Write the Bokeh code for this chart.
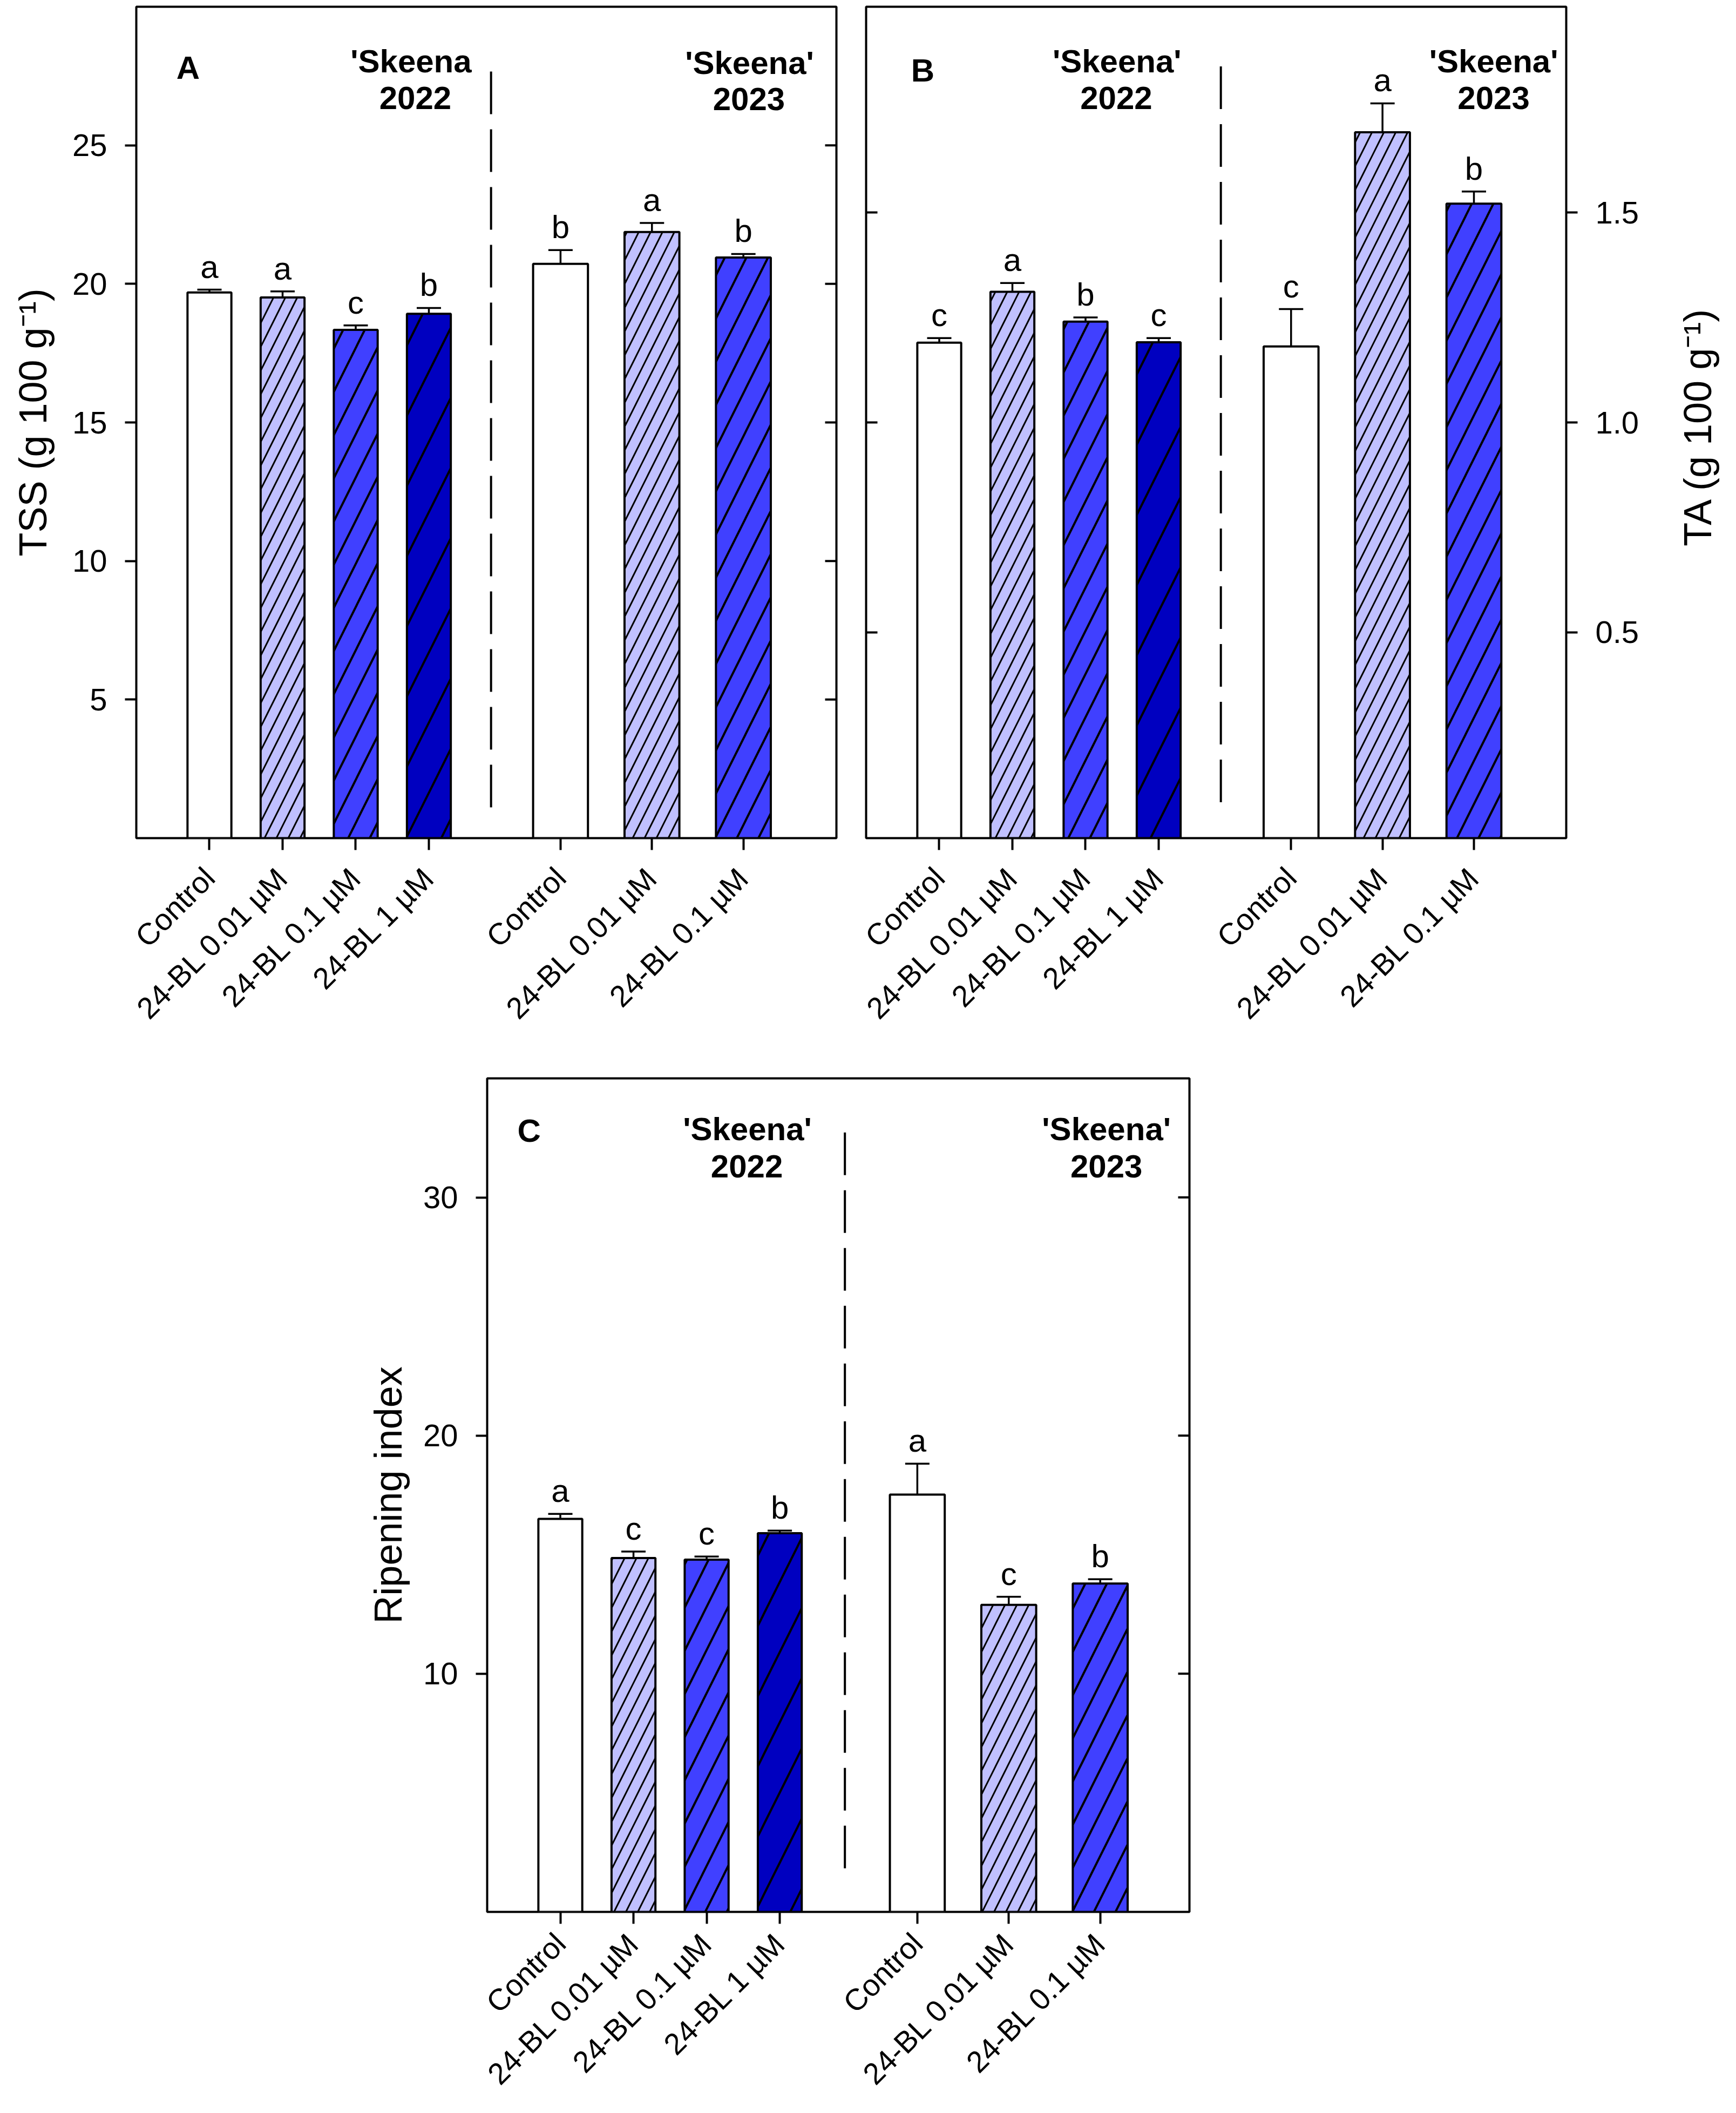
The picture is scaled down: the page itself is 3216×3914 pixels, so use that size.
import math
from bokeh.plotting import figure
from bokeh.models import (Range1d, FixedTicker, Whisker, TeeHead, PrintfTickFormatter,
                          ColumnDataSource, Spacer)
from bokeh.layouts import row, column
from bokeh.embed import file_html
from bokeh.resources import INLINE
from bokeh.core.properties import value

FONT = "Liberation Sans"

# ---------------- data ----------------
treatments_2022 = ["Control", "24-BL 0.01 µM", "24-BL 0.1 µM", "24-BL 1 µM"]
treatments_2023 = ["Control", "24-BL 0.01 µM", "24-BL 0.1 µM"]

# Panel A: TSS (g 100 g-1)
tss_2022 = [19.69, 19.51, 18.34, 18.92]
tss_2022_se = [0.10, 0.22, 0.16, 0.21]
tss_2022_letters = ["a", "a", "c", "b"]
tss_2023 = [20.72, 21.87, 20.95]
tss_2023_se = [0.50, 0.33, 0.13]
tss_2023_letters = ["b", "a", "b"]

# Panel B: TA (g 100 g-1)
ta_2022 = [1.190, 1.311, 1.240, 1.191]
ta_2022_se = [0.011, 0.021, 0.010, 0.010]
ta_2022_letters = ["c", "a", "b", "c"]
ta_2023 = [1.181, 1.691, 1.521]
ta_2023_se = [0.089, 0.069, 0.029]
ta_2023_letters = ["c", "a", "b"]

# Panel C: Ripening index
ri_2022 = [16.50, 14.86, 14.79, 15.90]
ri_2022_se = [0.21, 0.27, 0.13, 0.11]
ri_2022_letters = ["a", "c", "c", "b"]
ri_2023 = [17.52, 12.89, 13.79]
ri_2023_se = [1.30, 0.34, 0.18]
ri_2023_letters = ["a", "c", "b"]

tss_ticks = [5, 10, 15, 20, 25]
ta_ticks = [0.5, 1.0, 1.5]
ri_ticks = [10, 20, 30]

tss_title = "TSS (g 100 g⁻¹)"
ta_title = "TA (g 100 g⁻¹)"
ri_title = "Ripening index"

# ---------------- styles ----------------
fill_2022 = ["#FFFFFF", "#C0C0FF", "#4040FF", "#0000C0"]
fill_2023 = ["#FFFFFF", "#C0C0FF", "#4040FF"]
hatch_2022 = [" ", "/", "/", "/"]
hatch_2023 = [" ", "/", "/"]
hscale_2022 = [20, 44, 80, 130]
hscale_2023 = [20, 44, 80]
hweight_2022 = [1, 3, 4, 4]
hweight_2023 = [1, 3, 4]

pos_2022 = [1, 2, 3, 4]
W22, W23 = 0.6, 0.75
LW = 4


def make_panel(v22, e22, l22, v23, e23, l23, pos_2023, x_end, y_range, y_ticks,
               divider, texts, label_side, y_label, borders, frame,
               x_standoff, y_label_standoff, y_format=None):
    p = figure(x_range=Range1d(0, x_end), y_range=Range1d(*y_range),
               frame_width=frame[0], frame_height=frame[1],
               min_border_left=borders[0], min_border_right=borders[1],
               min_border_top=borders[2], min_border_bottom=borders[3],
               toolbar_location=None, tools="", output_backend="svg",
               y_axis_location=label_side)
    p.grid.visible = False
    p.outline_line_color = "black"
    p.outline_line_width = 4
    p.background_fill_color = "white"
    p.border_fill_color = "white"

    xs = pos_2022 + pos_2023
    src = ColumnDataSource(dict(
        x=xs,
        top=v22 + v23,
        err=[v + e for v, e in zip(v22 + v23, e22 + e23)],
        w=[W22] * len(v22) + [W23] * len(v23),
        fill=fill_2022[:len(v22)] + fill_2023[:len(v23)],
        hatch=hatch_2022[:len(v22)] + hatch_2023[:len(v23)],
        hscale=hscale_2022[:len(v22)] + hscale_2023[:len(v23)],
        hweight=hweight_2022[:len(v22)] + hweight_2023[:len(v23)],
        letter=l22 + l23,
    ))
    p.add_layout(Whisker(source=src, base="x", lower="top", upper="err",
                         dimension="height", line_width=3.5, line_color="black",
                         upper_head=TeeHead(size=45, line_width=3.5, line_color="black"),
                         lower_head=None))
    p.vbar(x="x", top="top", bottom=0, width="w", source=src,
           fill_color="fill", line_color="black", line_width=LW,
           hatch_pattern="hatch", hatch_scale="hscale", hatch_weight="hweight",
           hatch_color="black")
    p.text(x="x", y="err", text="letter", source=src, text_align="center",
           text_baseline="bottom", y_offset=-9, text_font=value(FONT),
           text_font_size="60px", text_color="black")

    # dashed divider between seasons
    p.line(x=[divider[0], divider[0]], y=[divider[1], divider[2]],
           line_dash="79 28", line_width=4, line_color="black")

    # panel letter and season titles
    p.text(x=texts["x"], y=texts["y"], text=texts["text"], text_align="center",
           text_baseline="alphabetic", text_font=value(FONT),
           text_font_style="bold", text_font_size="60px", text_color="black")

    # x axis
    xa = p.xaxis[0]
    xa.ticker = FixedTicker(ticks=xs)
    xa.major_label_overrides = {x: t for x, t in
                                zip(xs, treatments_2022[:len(v22)] + treatments_2023[:len(v23)])}
    xa.major_label_orientation = math.pi / 4
    xa.axis_line_color = None
    xa.minor_tick_line_color = None
    xa.major_tick_line_width = LW
    xa.major_tick_out = 22
    xa.major_tick_in = 0
    xa.major_label_text_font = FONT
    xa.major_label_text_font_size = "56px"
    xa.major_label_text_color = "black"
    xa.major_label_standoff = x_standoff

    # labelled y axis
    ya = p.yaxis[0]
    ya.ticker = FixedTicker(ticks=y_ticks)
    if y_format:
        ya.formatter = PrintfTickFormatter(format=y_format)
    ya.axis_line_color = None
    ya.minor_tick_line_color = None
    ya.major_tick_line_width = LW
    ya.major_tick_out = 21
    ya.major_tick_in = 0
    ya.major_label_text_font = FONT
    ya.major_label_text_font_size = "58px"
    ya.major_label_text_color = "black"
    ya.major_label_standoff = 33

    # mirrored inward ticks on the opposite side of the frame
    if label_side == "left":
        p.ray(x=[x_end] * len(y_ticks), y=y_ticks, length=21, length_units="screen",
              angle=math.pi, line_width=LW, line_color="black")
        ya.axis_label = y_label
        ya.axis_label_text_font = FONT
        ya.axis_label_text_font_size = "72px"
        ya.axis_label_text_font_style = "normal"
        ya.axis_label_text_color = "black"
        ya.axis_label_standoff = y_label_standoff
    else:
        p.ray(x=[0] * len(y_ticks), y=y_ticks, length=21, length_units="screen",
              angle=0, line_width=LW, line_color="black")
    return p


pA = make_panel(tss_2022, tss_2022_se, tss_2022_letters,
                tss_2023, tss_2023_se, tss_2023_letters,
                pos_2023=[5.80, 7.05, 8.30], x_end=9.572, y_range=(0, 30),
                y_ticks=tss_ticks, divider=(4.85, 27.66, 0.97),
                texts=dict(x=[0.708, 3.756, 3.815, 8.384, 8.376],
                           y=[27.80, 28.03, 26.70, 27.97, 26.67],
                           text=["A", "'Skeena", "2022", "'Skeena'", "2023"]),
                label_side="left", y_label=tss_title,
                borders=(252, 25, 12, 400), frame=(1297, 1540),
                x_standoff=42, y_label_standoff=30)

TA_YRANGE = (0.01, 1.99)
pB = make_panel(ta_2022, ta_2022_se, ta_2022_letters,
                ta_2023, ta_2023_se, ta_2023_letters,
                pos_2023=[5.81, 7.06, 8.31], x_end=9.572, y_range=TA_YRANGE,
                y_ticks=ta_ticks, divider=(4.85, 1.848, 0.075),
                texts=dict(x=[0.775, 3.43, 3.42, 8.58, 8.58],
                           y=[1.838, 1.860, 1.773, 1.860, 1.773],
                           text=["B", "'Skeena'", "2022", "'Skeena'", "2023"]),
                label_side="right", y_label=ta_title,
                borders=(30, 150, 12, 400), frame=(1297, 1540),
                x_standoff=42, y_label_standoff=0, y_format="%.1f")

# right-hand axis title of panel B (reads bottom-to-top), in its own strip
TA_STRIP_W = 147
pT = figure(x_range=Range1d(0, TA_STRIP_W), y_range=Range1d(*TA_YRANGE),
            frame_width=TA_STRIP_W, frame_height=1540,
            min_border_left=0, min_border_right=0, min_border_top=12,
            min_border_bottom=400, toolbar_location=None, tools="",
            output_backend="svg", x_axis_location=None, y_axis_location=None)
pT.grid.visible = False
pT.outline_line_color = None
pT.background_fill_color = "white"
pT.border_fill_color = "white"
pT.text(x=[93], y=[0.99], text=[ta_title], angle=math.pi / 2, text_align="center",
        text_baseline="middle", text_font=value(FONT), text_font_size="72px",
        text_color="black")

pC = make_panel(ri_2022, ri_2022_se, ri_2022_letters,
                ri_2023, ri_2023_se, ri_2023_letters,
                pos_2023=[5.88, 7.13, 8.38], x_end=9.60, y_range=(0, 35),
                y_ticks=ri_ticks, divider=(4.89, 32.73, 1.69),
                texts=dict(x=[0.573, 3.557, 3.55, 8.465, 8.465],
                           y=[32.80, 32.87, 31.31, 32.87, 31.31],
                           text=["C", "'Skeena'", "2022", "'Skeena'", "2023"]),
                label_side="left", y_label=ri_title,
                borders=(302, 30, 45, 355), frame=(1301, 1544),
                x_standoff=27, y_label_standoff=22)

layout = column(row(pA, pB, pT), row(Spacer(width=600, height=10), pC))

open("out.html", "w").write(file_html(layout, INLINE))
